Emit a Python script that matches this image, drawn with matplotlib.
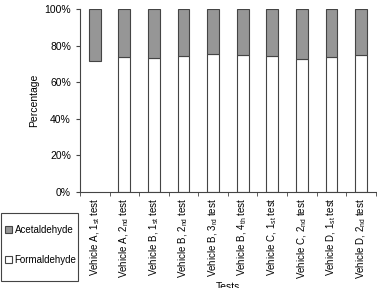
import matplotlib.pyplot as plt
import numpy as np
from matplotlib.patches import Patch, Rectangle

plt.rcParams['font.family'] = ['Liberation Sans', 'DejaVu Sans']
plt.rcParams['mathtext.fontset'] = 'custom'
plt.rcParams['mathtext.rm'] = 'Liberation Sans'

tests = [r"Vehicle A, 1$_{\rm st}$ test", r"Vehicle A, 2$_{\rm nd}$ test",
         r"Vehicle B, 1$_{\rm st}$ test", r"Vehicle B, 2$_{\rm nd}$ test",
         r"Vehicle B, 3$_{\rm rd}$ test", r"Vehicle B, 4$_{\rm th}$ test",
         r"Vehicle C, 1$_{\rm st}$ test", r"Vehicle C, 2$_{\rm nd}$ test",
         r"Vehicle D, 1$_{\rm st}$ test", r"Vehicle D, 2$_{\rm nd}$ test"]
formaldehyde = [71.7, 73.8, 73.4, 74.5, 75.3, 74.6, 74.1, 72.7, 73.9, 74.7]
acetaldehyde = [100 - f for f in formaldehyde]

gray = '#969696'
edge = '#444444'

fig = plt.figure(figsize=(3.77, 2.88), dpi=100)
ax = fig.add_axes([0.212, 0.333, 0.785, 0.636])

x = np.arange(len(tests))
w = 0.4
edges = ['none'] + [edge] * (len(tests) - 1)
ax.bar(x, formaldehyde, w, color='white', edgecolor=edges, linewidth=0.8)
ax.bar(x, acetaldehyde, w, bottom=formaldehyde, color=gray,
       edgecolor=edge, linewidth=0.8)

ax.set_xlim(-0.5, len(tests) - 0.5)
ax.set_ylim(0, 100)
ax.set_yticks([0, 20, 40, 60, 80, 100])
ax.set_yticklabels(['0%', '20%', '40%', '60%', '80%', '100%'], fontsize=7.5)
ax.set_xticks(x)
ax.set_xticklabels(tests, rotation=90, fontsize=7)
ax.tick_params(axis='x', length=0, pad=4)
ax.set_xticks(np.arange(-0.5, len(tests)), minor=True)
ax.tick_params(axis='x', which='minor', length=3, direction='out', color=edge)
ax.tick_params(axis='y', length=3, direction='out', color=edge)
for s in ['top', 'right']:
    ax.spines[s].set_visible(False)
for s in ['left', 'bottom']:
    ax.spines[s].set_color(edge)
    ax.spines[s].set_linewidth(0.8)

ax.set_ylabel('Percentage', fontsize=7.5)
ax.set_xlabel('Tests', fontsize=7.5)
ax.xaxis.set_label_coords(0.5, -0.49)

# legend box drawn separately so the entries can sit loosely inside it
fig.add_artist(Rectangle((0.003, 0.024), 0.204, 0.236, transform=fig.transFigure,
                         facecolor='white', edgecolor=edge, linewidth=0.8))
handles = [Patch(facecolor=gray, edgecolor=edge, linewidth=0.8),
           Patch(facecolor='white', edgecolor=edge, linewidth=0.8)]
fig.legend(handles, ['Acetaldehyde', 'Formaldehyde'],
           loc='center left', bbox_to_anchor=(0.013, 0.149),
           fontsize=7, frameon=False,
           handlelength=0.7, handleheight=0.7, handletextpad=0.3,
           labelspacing=2.1, borderpad=0, borderaxespad=0)

fig.savefig('out.png', dpi=100)
